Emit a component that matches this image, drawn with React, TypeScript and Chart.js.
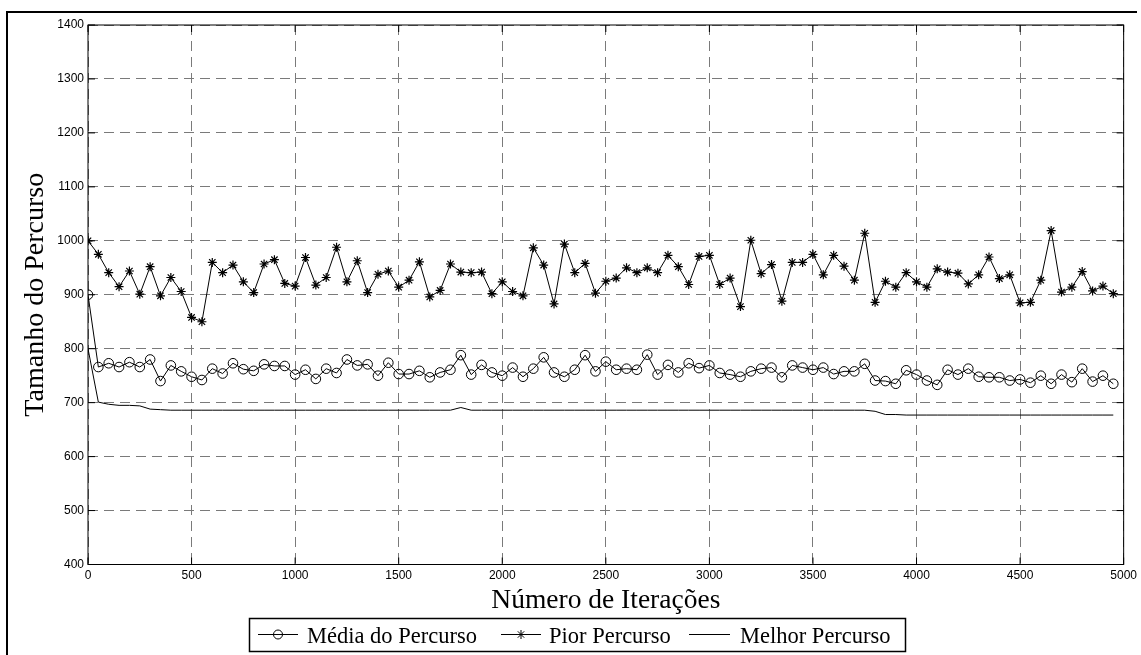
import React, { useEffect, useRef } from 'react';
import { Chart, registerables } from 'chart.js';

Chart.register(...registerables);

// ---------- data ----------
const iterations = [
  0, 50, 100, 150, 200, 250, 300, 350, 400, 450,
  500, 550, 600, 650, 700, 750, 800, 850, 900, 950,
  1000, 1050, 1100, 1150, 1200, 1250, 1300, 1350, 1400, 1450,
  1500, 1550, 1600, 1650, 1700, 1750, 1800, 1850, 1900, 1950,
  2000, 2050, 2100, 2150, 2200, 2250, 2300, 2350, 2400, 2450,
  2500, 2550, 2600, 2650, 2700, 2750, 2800, 2850, 2900, 2950,
  3000, 3050, 3100, 3150, 3200, 3250, 3300, 3350, 3400, 3450,
  3500, 3550, 3600, 3650, 3700, 3750, 3800, 3850, 3900, 3950,
  4000, 4050, 4100, 4150, 4200, 4250, 4300, 4350, 4400, 4450,
  4500, 4550, 4600, 4650, 4700, 4750, 4800, 4850, 4900, 4950,
];

const mediaPercurso = [
  900, 766, 773, 766, 775, 766, 780, 740, 769, 758,
  748, 742, 763, 754, 773, 762, 759, 771, 768, 768,
  752, 761, 744, 763, 755, 780, 769, 771, 750, 774,
  753, 753, 759, 747, 756, 761, 788, 752, 770, 756,
  750, 765, 748, 763, 784, 756, 748, 761, 788, 758,
  776, 761, 763, 761, 789, 752, 770, 756, 773, 764,
  769, 755, 752, 748, 758, 763, 765, 747, 769, 765,
  761, 765, 753, 758, 758, 772, 741, 740, 735, 760,
  752, 741, 733, 761, 752, 763, 748, 747, 747, 741,
  743, 737, 750, 735, 752, 738, 763, 739, 750, 735,
];

const piorPercurso = [
  1000, 975, 941, 915, 944, 901, 952, 898, 932, 906,
  858, 850, 960, 941, 955, 924, 904, 957, 965, 921,
  916, 969, 918, 932, 988, 924, 963, 904, 938, 944,
  914, 927, 961, 896, 908, 957, 942, 941, 942, 902,
  924, 906, 898, 987, 955, 883, 994, 941, 958, 903,
  925, 931, 950, 941, 950, 941, 973, 952, 919, 971,
  973, 919, 931, 878, 1001, 939, 956, 888, 960, 960,
  975, 937, 973, 953, 927, 1014, 886, 925, 914, 941,
  924, 914, 948, 942, 940, 920, 937, 970, 930, 937,
  885, 886, 927, 1019, 905, 914, 943, 907, 916, 902,
];

const melhorPercurso = [
  800, 701, 697, 695, 695, 694, 688, 687, 686, 686,
  686, 686, 686, 686, 686, 686, 686, 686, 686, 686,
  686, 686, 686, 686, 686, 686, 686, 686, 686, 686,
  686, 686, 686, 686, 686, 686, 691, 686, 686, 686,
  686, 686, 686, 686, 686, 686, 686, 686, 686, 686,
  686, 686, 686, 686, 686, 686, 686, 686, 686, 686,
  686, 686, 686, 686, 686, 686, 686, 686, 686, 686,
  686, 686, 686, 686, 686, 686, 684, 678, 678, 677,
  677, 677, 677, 677, 677, 677, 677, 677, 677, 677,
  677, 677, 677, 677, 677, 677, 677, 677, 677, 677,
];

const xTickValues = [0, 500, 1000, 1500, 2000, 2500, 3000, 3500, 4000, 4500, 5000];
const yTickValues = [400, 500, 600, 700, 800, 900, 1000, 1100, 1200, 1300, 1400];

const seriesLabels = ['Média do Percurso', 'Pior Percurso', 'Melhor Percurso'];
const xTitle = 'Número de Iterações';
const yTitle = 'Tamanho do Percurso';

// ---------- helpers ----------
function drawMarker(ctx: CanvasRenderingContext2D, style: string, x: number, y: number, r: number) {
  ctx.beginPath();
  if (style === 'circle') {
    ctx.arc(x, y, r, 0, Math.PI * 2);
  } else if (style === 'star') {
    ctx.moveTo(x - r, y);
    ctx.lineTo(x + r, y);
    ctx.moveTo(x, y - r);
    ctx.lineTo(x, y + r);
    const d = r * Math.SQRT1_2;
    ctx.moveTo(x - d, y - d);
    ctx.lineTo(x + d, y + d);
    ctx.moveTo(x - d, y + d);
    ctx.lineTo(x + d, y - d);
  }
  ctx.stroke();
}

const decorPlugin = {
  id: 'decor',
  afterDraw(chart: any) {
    const ctx: CanvasRenderingContext2D = chart.ctx;
    const area = chart.chartArea;
    const xs = chart.scales.x;
    const ys = chart.scales.y;
    ctx.save();
    ctx.strokeStyle = '#000';
    ctx.fillStyle = '#000';
    ctx.setLineDash([]);

    // axes box
    ctx.lineWidth = 1;
    ctx.strokeRect(area.left, area.top, area.right - area.left, area.bottom - area.top);

    // inner tick marks
    const tl = 7;
    ctx.beginPath();
    xTickValues.forEach((v) => {
      const px = xs.getPixelForValue(v);
      ctx.moveTo(px, area.bottom);
      ctx.lineTo(px, area.bottom - tl);
      ctx.moveTo(px, area.top);
      ctx.lineTo(px, area.top + tl);
    });
    yTickValues.forEach((v) => {
      const py = ys.getPixelForValue(v);
      ctx.moveTo(area.left, py);
      ctx.lineTo(area.left + tl, py);
      ctx.moveTo(area.right, py);
      ctx.lineTo(area.right - tl, py);
    });
    ctx.stroke();

    // outer figure frame (top and left)
    ctx.lineWidth = 2;
    ctx.beginPath();
    ctx.moveTo(6, 12);
    ctx.lineTo(1137, 12);
    ctx.moveTo(7, 11);
    ctx.lineTo(7, 660);
    ctx.stroke();

    // axis titles
    ctx.font = '27.5px "Liberation Serif"';
    ctx.textAlign = 'center';
    ctx.textBaseline = 'alphabetic';
    ctx.fillText(xTitle, (area.left + area.right) / 2, 608);

    ctx.save();
    ctx.translate(43, (area.top + area.bottom) / 2);
    ctx.rotate(-Math.PI / 2);
    ctx.font = '28px "Liberation Serif"';
    ctx.fillText(yTitle, 0, 0);
    ctx.restore();

    // legend
    ctx.lineWidth = 1.5;
    ctx.strokeRect(249.5, 618.5, 656, 33);
    const items = [
      { line: [258, 298], text: 307, marker: 'circle' },
      { line: [501, 541], text: 549, marker: 'star' },
      { line: [689, 730], text: 740, marker: '' },
    ];
    ctx.font = '22.5px "Liberation Serif"';
    ctx.textAlign = 'left';
    ctx.textBaseline = 'alphabetic';
    items.forEach((it, i) => {
      const ly = 634.5;
      ctx.lineWidth = 1;
      ctx.beginPath();
      ctx.moveTo(it.line[0], ly);
      ctx.lineTo(it.line[1], ly);
      ctx.stroke();
      if (it.marker) drawMarker(ctx, it.marker, (it.line[0] + it.line[1]) / 2, ly, 4.5);
      ctx.fillText(seriesLabels[i], it.text, 643);
    });

    ctx.restore();
  },
};

export default function App() {
  const canvasRef = useRef<HTMLCanvasElement | null>(null);

  useEffect(() => {
    const canvas = canvasRef.current;
    if (!canvas) return;
    const toPoints = (vals: number[]) => iterations.map((x, i) => ({ x, y: vals[i] }));
    const gridCommon = {
      color: '#7a7a7a',
      lineWidth: 1,
      drawTicks: false,
    };
    const plainLabel = (v: any) => String(v);
    const chart = new Chart(canvas, {
      type: 'line',
      data: {
        datasets: [
          {
            label: seriesLabels[0],
            data: toPoints(mediaPercurso),
            borderColor: '#000',
            borderWidth: 1,
            pointStyle: 'circle',
            pointRadius: 4.8,
            pointBorderColor: '#000',
            pointBackgroundColor: 'rgba(0,0,0,0)',
            pointBorderWidth: 1,
            tension: 0,
          },
          {
            label: seriesLabels[1],
            data: toPoints(piorPercurso),
            borderColor: '#000',
            borderWidth: 1,
            pointStyle: 'star',
            pointRadius: 4.5,
            pointBorderColor: '#000',
            pointBackgroundColor: '#000',
            pointBorderWidth: 1.2,
            tension: 0,
          },
          {
            label: seriesLabels[2],
            data: toPoints(melhorPercurso),
            borderColor: '#000',
            borderWidth: 1,
            pointRadius: 0,
            tension: 0,
          },
        ],
      },
      options: {
        responsive: false,
        animation: false,
        devicePixelRatio: 1,
        layout: { padding: { left: 0, top: 25, right: 17, bottom: 0 } },
        plugins: {
          legend: { display: false },
          tooltip: { enabled: false },
          title: { display: false },
        },
        scales: {
          x: {
            type: 'linear',
            min: 0,
            max: 5000,
            afterBuildTicks: (s: any) => {
              s.ticks = xTickValues.map((v) => ({ value: v }));
            },
            afterFit: (s: any) => {
              s.height = 90.5;
            },
            ticks: {
              color: '#000',
              padding: 4,
              maxRotation: 0,
              autoSkip: false,
              callback: plainLabel,
              font: { family: '"Liberation Sans"', size: 12 },
            },
            grid: gridCommon,
            border: { display: false, dash: [10, 6] },
          },
          y: {
            type: 'linear',
            min: 400,
            max: 1400,
            afterBuildTicks: (s: any) => {
              s.ticks = yTickValues.map((v) => ({ value: v }));
            },
            afterFit: (s: any) => {
              s.width = 88;
            },
            ticks: {
              color: '#000',
              padding: 4,
              autoSkip: false,
              callback: plainLabel,
              font: { family: '"Liberation Sans"', size: 12 },
            },
            grid: gridCommon,
            border: { display: false, dash: [10, 6] },
          },
        },
      },
      plugins: [decorPlugin],
    } as any);
    return () => {
      chart.destroy();
    };
  }, []);

  return (
    <div style={{ position: 'fixed', left: 0, top: 0, width: 1141, height: 655, background: '#fff' }}>
      <canvas ref={canvasRef} width={1141} height={655} style={{ display: 'block', width: 1141, height: 655 }} />
    </div>
  );
}
